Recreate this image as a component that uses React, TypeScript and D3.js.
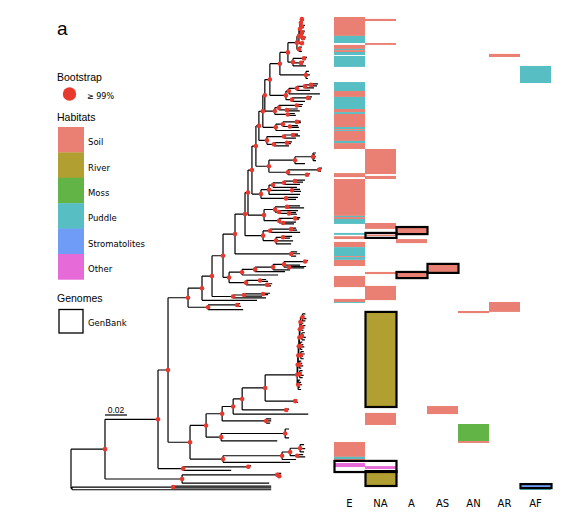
import React from "react";
import * as d3 from "d3";

// ---------- DATA ----------
const COLUMNS = ["E", "NA", "A", "AS", "AN", "AR", "AF"];
const HABITATS = ["Soil", "River", "Moss", "Puddle", "Stromatolites", "Other"];
const HABITAT_COLORS = ["#E98073", "#B19F32", "#62B446", "#57BEC4", "#6F9CF6", "#E66AD8"];
const SCALE_BAR = 0.02;
const LENGTH_UNIT = 0.001; // branch lengths below are written in thousandths
const N_ROWS = 200;

// heatmap cells per column: [habitat, rowStart, rowEnd]
const heatE: [string, number, number][] = [
  ["Soil", 0, 8.0], ["Puddle", 8.0, 11.0], ["Soil", 11.8, 13.5], ["Puddle", 13.5, 14.0],
  ["Soil", 14.0, 14.8], ["Puddle", 14.8, 16.1], ["Puddle", 16.5, 21.1], ["Puddle", 27.5, 31.3],
  ["Soil", 31.3, 33.8], ["Puddle", 33.8, 38.9], ["Soil", 38.9, 40.2], ["Puddle", 40.2, 41.0],
  ["Soil", 41.0, 46.5], ["Puddle", 46.5, 47.4], ["Soil", 47.4, 47.8], ["Puddle", 47.8, 48.2],
  ["Soil", 48.2, 52.4], ["Puddle", 52.4, 53.3], ["Soil", 53.3, 55.8], ["Soil", 66.0, 67.7],
  ["Soil", 68.5, 84.1], ["Puddle", 84.1, 84.6], ["Soil", 84.6, 85.4], ["Puddle", 85.4, 87.5],
  ["Puddle", 91.3, 92.1], ["Soil", 92.7, 93.9], ["Soil", 95.1, 97.3], ["Puddle", 97.3, 101.1],
  ["Soil", 101.1, 101.5], ["Puddle", 101.5, 102.7], ["Soil", 102.7, 105.3], ["Soil", 109.5, 114.2],
  ["Soil", 119.2, 120.5], ["Puddle", 120.5, 120.9], ["Soil", 179.7, 186.0], ["Puddle", 186.0, 186.9],
  ["Soil", 186.9, 187.7], ["Other", 188.6, 190.3],
];
const heatNA: [string, number, number][] = [
  ["Soil", 0.8, 1.7], ["Soil", 11.0, 11.8], ["Soil", 55.8, 66.4], ["Soil", 67.2, 68.5],
  ["Soil", 87.1, 89.6], ["Soil", 92.0, 92.6], ["Soil", 107.8, 108.7], ["Soil", 113.7, 119.7],
  ["River", 124.7, 164.9], ["Soil", 167.4, 172.5], ["Other", 189.9, 191.1], ["River", 192.0, 198.3],
];
const heatA: [string, number, number][] = [["Soil", 88.8, 91.8], ["Soil", 93.9, 95.6], ["Soil", 107.8, 110.4]];
const heatAS: [string, number, number][] = [["Soil", 104.4, 108.2], ["Soil", 164.5, 167.9]];
const heatAN: [string, number, number][] = [["Soil", 124.3, 125.2], ["Moss", 172.1, 179.3], ["Soil", 179.3, 180.1]];
const heatAR: [string, number, number][] = [["Soil", 15.6, 16.9], ["Soil", 120.5, 124.7]];
const heatAF: [string, number, number][] = [["Puddle", 20.7, 27.9], ["Stromatolites", 197.5, 199.2], ["Puddle", 199.2, 200]];
const HEAT: Record<string, [string, number, number][]> = { E: heatE, NA: heatNA, A: heatA, AS: heatAS, AN: heatAN, AR: heatAR, AF: heatAF };

// GenBank genome boxes: [firstColumn, lastColumn, rowStart, rowEnd]
const genbankBoxes: [string, string, number, number][] = [
  ["A", "A", 88.8, 91.8], ["NA", "NA", 91.3, 93.4], ["AS", "AS", 104.4, 108.2], ["A", "A", 107.8, 110.4],
  ["NA", "NA", 124.7, 164.9], ["E", "NA", 187.7, 192.4], ["NA", "NA", 192.0, 198.3], ["AF", "AF", 197.5, 199.2],
];

// ---------- TREE (Newick; leaf name = heatmap row, "*" = bootstrap >= 99%) ----------
const Na11 = "(0:0.9,0.8:1.8)*:0.9";
const Na = `(${Na11},1.7:1.8,(3:2.7,4:1.8)*:0.9)*:0.9`;
const Nb = "((5.5:2.7,6.5:1.8)*:0.9,(8:2.7,9:1.8)*:1.8)*:0.9";
const T2 = `(${Na},${Nb})*:0.9`;
const T1 = `(${T2},(10.2:1.8,11:0.9)*:2.7)*:1.8`;
const TOP = `(${T1},(12.2:2.7,13.2:1.8,14:2.7)*:1.8)*:8.2`;
const CLADE2 = "((16.6:2.7,17.4:1.8)*:10,(18.5:2.7,19.3:1.8)*:7.3,20.2:11.8)*:4.6";
const N288 = `(${TOP},${CLADE2})*:7.3`;
const N306 = "(22.5:2.7,24:3.6,25.5:1.8)*:23.7";
const N280 = `(${N288},${N306})*:9.1`;
const C28 = "(((((27.8:6.4,28.6:5.5)*:5.5,29.5:8.2)*:7.3,30.5:11.8)*:7.3,32:28.2)*:2.7,((33.3:3.6,34.1:2.7)*:14.6,35.2:11.8)*:5.5)*:14.6";
const N270 = `(${N280},${C28})*:4.6`;
const C36 = "(((36.5:5.5,37.3:4.6)*:16.4,(38.4:10,39.2:11.8)*:7.3)*:3.6,(40.3:6.4,41.1:7.3)*:11.8)*:9.1";
const N265 = `(${N270},${C36})*:1.8`;
const C43 = "(((43.5:3.6,44.2:3.6)*:12.7,(45.4:7.3,46.2:8.2)*:6.4)*:6.4,47.5:21.8)*:11.8";
const N263 = `(${N265},${C43})*:3.6`;
const C49 = "(((49:4.6,49.8:6.4)*:8.2,50.7:10.9)*:15.5,((52.3:4.6,53:3.6)*:11.8,54:13.7)*:6.4)*:7.3";
const N259 = `(${N263},${C49})*:2.7`;
const S8 = "(((57:2.7,57.8:1.8,58.6:2.7,59.4:1.8,60.2:2.7)*:16.4,61.5:9.1)*:23.7,((63.4:2.7,64.8:1.8)*:28.2,(65.8:2.7,66.6:1.8)*:17.3)*:17.3)*:11.8";
const N256 = `(${N259},${S8})*:3.6`;
const CL = "(((((68.5:9.1,69.3:7.3)*:10,70.3:14.6)*:10,71.5:21.8)*:3.6,(72.4:7.3,73.2:8.2)*:20.9,74.5:28.2)*:7.3,(75.8:10.9,76.6:9.1)*:22.8)*:8.2";
const N252 = `(${N256},${CL})*:3.6`;
const CM = "(((79.4:11.8,80.2:15.5)*:10.9,(81.4:17.3,(82.2:6.4,82.9:7.3)*:9.1)*:3.6)*:10,((84.3:4.6,85:3.6)*:14.6,(86.2:11.8,87:10)*:3.6)*:13.7)*:14.6";
const N248 = `(${N252},${CM})*:2.7`;
const CK = "(((88.8:4.6,89.6:5.5)*:19.1,90.6:27.3)*:6.4,((92.3:8.2,93:6.4)*:6.4,94.2:15.5,95.4:13.7)*:11.8)*:16.4";
const N245 = `(${N248},${CK})*:9.1`;
const P99 = "(98.8:5.5,99.6:8.2,100.6:4.6)*:51";
const N235 = `(${N245},${P99})*:10.9`;
const N229 = "((((((102.5:2.7,103.3:1.8)*:19.1,104.4:14.6,(105:15.5,105.6:13.7)*:4.6)*:10,106.4:15.5)*:16.4,107.2:27.3)*:11.8,108.6:32.8)*:11.8,((110.5:5.5,111.3:7.3)*:12.7,(112.3:4.6,113.2:3.6)*:19.1)*:15.5)*:5.5";
const N223 = `(${N235},${N229})*:10`;
const Q1 = "(((116.3:6.4,116.9:4.6)*:17.3,117.5:16.4)*:10,118.3:30)*:19.1";
const N212 = `(${N223},${Q1})*:9.1`;
const N202 = `(${N212},119.3:50)*:12.7`;
const N208 = "((120.7:2.7,121.8:3.6)*:26.4,123.2:31.9)*:18.2";
const N188 = `(${N202},${N208})*:18.2`;

const G1 = "(125:2.7,126:1.8,127:3.6,128:2.7)*:1.8";
const G2 = "(129:1.8,130:3.6,131:2.7,132:1.8)*:0.9";
const G3 = "(133:2.7,134:1.8,135:3.6,136:2.7)*:1.8";
const G4 = "(137:1.8,138:2.7,139:3.6,140:1.8)*:0.9";
const G5 = "(141:2.7,142:3.6,143:1.8,144:2.7)*:1.8";
const G6 = "(145:1.8,146:2.7,147:3.6,148:1.8)*:0.9";
const G7 = "(149:2.7,150:1.8,151:3.6,152:2.7)*:1.8";
const G8 = "(153:1.8,154:2.7,155:3.6,156:1.8,157:2.7)*:0.9";
const RIVER = `(((((((${G1},${G2})*:0.5,${G3})*:0.5,${G4})*:0.5,${G5})*:0.5,${G6})*:0.5,${G7})*:0.5,${G8})*:29.1`;
const N295L = "(161.4:1.8,162.4:2.7)*:27.3";
const N265L = `(${RIVER},${N295L})*:20.9`;
const N286L = "(165.3:2.7,166:1.8)*:40";
const N242L = `(${N265L},${N286L})*:8.2`;
const N233L = `(${N242L},167.4:68.3)*:10`;
const NC266 = "(169.4:4.6,170.3:4.6,171.2:3.6)*:40";
const N222L = `(${N233L},${NC266})*:14.6`;
const N221L = "((173.7:3.6,175.8:0.9,177.5:3.6)*:58.2,178.7:51)*:13.7";
const N206 = `(${N222L},${N221L})*:14.6`;
const N223L = "((((180.3:3.6,182:4.6,183.4:3.6)*:9.1,(184.5:5.5,185.5:7.3)*:6.4)*:7.3,186.6:12.7)*:53.7,187.8:61)*:30";
const N190 = `(${N206},${N223L})*:20`;
const N168 = `(${N188},${N190})*:9.1`;
const N183 = "((189.3:2.7,190.1:1.8)*:59.2,191.2:43.7)*:22.8";
const N158 = `(${N168},${N183})*:48.2`;
const N182 = "((192.5:3.6,(193.3:1.8,194.1:0.9)*:1.8)*:86.5,196.6:79.2)*:70.1";
const CA = `(${N158},${N182})*:30.9`;
const NOUT = "((197.9:89.2,198.6:89.2)*:91.9,199.4:181.1):0.9";
const TREE = `(${CA},${NOUT});`;

// ---------- helpers ----------
type PNode = { name: string; length: number; children: PNode[] };
function parseNewick(src: string): PNode {
  const s = src.replace(/\s+/g, "");
  let i = 0;
  const read = (): PNode => {
    const node: PNode = { name: "", length: 0, children: [] };
    if (s[i] === "(") {
      i++;
      node.children.push(read());
      while (s[i] === ",") { i++; node.children.push(read()); }
      i++;
    }
    let name = "";
    while (i < s.length && !",():;".includes(s[i])) name += s[i++];
    node.name = name;
    if (s[i] === ":") {
      i++;
      let num = "";
      while (i < s.length && !",();".includes(s[i])) num += s[i++];
      node.length = parseFloat(num);
    }
    return node;
  };
  return read();
}

const RED = "#E8392F";
const TITLE_FONT = "'Liberation Sans', Arial, sans-serif";
const LABEL_FONT = "'DejaVu Sans', Verdana, sans-serif";

export default function App() {
  const W = 568, H = 520;
  const xScale = d3.scaleLinear().domain([0, SCALE_BAR]).range([71, 93]);
  const yScale = d3.scaleLinear().domain([0, N_ROWS]).range([17, 490]);
  const xBand = d3.scaleBand<string>().domain(COLUMNS).range([334, 551]).padding(0);
  const colorOf = d3.scaleOrdinal<string, string>().domain(HABITATS).range(HABITAT_COLORS);

  const root: any = d3.hierarchy(parseNewick(TREE), (d: PNode) => (d.children.length ? d.children : null));
  root.eachBefore((n: any) => {
    n.dist = n.parent ? n.parent.dist + n.data.length * LENGTH_UNIT : 0;
  });
  root.eachAfter((n: any) => {
    if (!n.children) n.yv = yScale(+n.data.name + 0.5);
    else n.yv = (n.children[0].yv + n.children[n.children.length - 1].yv) / 2;
  });
  const path = d3.path();
  const dots: { x: number; y: number }[] = [];
  root.each((n: any) => {
    const x = xScale(n.dist);
    if (n.parent) {
      path.moveTo(xScale(n.parent.dist), n.yv);
      path.lineTo(x, n.yv);
    }
    if (n.children) {
      path.moveTo(x, n.children[0].yv);
      path.lineTo(x, n.children[n.children.length - 1].yv);
      if (n.data.name === "*") dots.push({ x, y: n.yv });
    }
  });

  const bw = xBand.bandwidth();
  const sbX0 = 105;
  const sbLen = xScale(SCALE_BAR) - xScale(0);
  const swatchH = 25.4;

  return (
    <svg width={W} height={H} style={{ position: "absolute", left: 0, top: 0, background: "#fff" }}>
      {/* panel letter */}
      <text x={57} y={35} fontSize={19} fontFamily={TITLE_FONT}>a</text>

      {/* legend */}
      <text x={57} y={81} fontSize={10.5} fontFamily={TITLE_FONT}>Bootstrap</text>
      <circle cx={69.5} cy={94} r={6.7} fill={RED} />
      <text x={87} y={98.5} fontSize={8} fontFamily={LABEL_FONT}>≥ 99%</text>
      <text x={57} y={121} fontSize={10.5} fontFamily={TITLE_FONT}>Habitats</text>
      {HABITATS.map((h, i) => (
        <g key={h}>
          <rect x={58} y={127 + i * swatchH} width={26} height={swatchH + 0.3} fill={colorOf(h)} />
          <text x={88} y={127 + i * swatchH + swatchH / 2 + 5.5} fontSize={8.5} fontFamily={LABEL_FONT}>{h}</text>
        </g>
      ))}
      <text x={57} y={302} fontSize={10.5} fontFamily={TITLE_FONT}>Genomes</text>
      <rect x={59} y={309.5} width={24} height={23.5} fill="none" stroke="#000" strokeWidth={1.3} />
      <text x={88} y={326} fontSize={8.5} fontFamily={LABEL_FONT}>GenBank</text>

      {/* scale bar */}
      <text x={sbX0 + sbLen / 2} y={413} fontSize={8.5} fontFamily={TITLE_FONT} textAnchor="middle">0.02</text>
      <line x1={sbX0} x2={sbX0 + sbLen} y1={415} y2={415} stroke="#000" strokeWidth={1.2} />

      {/* tree */}
      <path d={path.toString()} fill="none" stroke="#000" strokeWidth={1.2} />
      {dots.map((d, i) => (
        <circle key={i} cx={d.x} cy={d.y} r={2.3} fill={RED} />
      ))}

      {/* heatmap */}
      {COLUMNS.map((c) =>
        HEAT[c].map(([h, r0, r1], i) => (
          <rect key={c + i} x={xBand(c)} y={yScale(r0)} width={bw} height={yScale(r1) - yScale(r0)} fill={colorOf(h)} />
        ))
      )}
      {genbankBoxes.map(([c0, c1, r0, r1], i) => {
        const x0 = xBand(c0)!;
        const x1 = xBand(c1)! + bw;
        return (
          <rect key={i} x={x0 + 0.5} y={yScale(r0)} width={x1 - x0} height={yScale(r1) - yScale(r0)}
            fill="none" stroke="#000" strokeWidth={2.2} />
        );
      })}
      {COLUMNS.map((c) => (
        <text key={c} x={xBand(c)! + bw / 2} y={507} fontSize={10} fontFamily={LABEL_FONT} textAnchor="middle">{c}</text>
      ))}
    </svg>
  );
}
